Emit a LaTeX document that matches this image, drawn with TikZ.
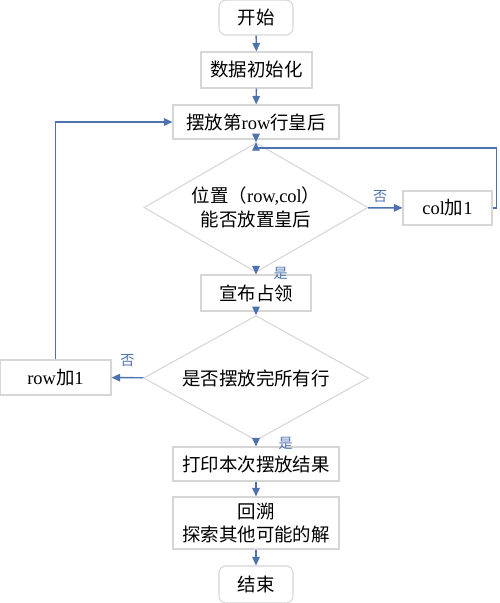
\documentclass[tikz,border=0pt]{standalone}
\usepackage{fontspec}
\setmainfont{Liberation Serif}
\newfontfamily\cjk{Noto Sans CJK SC}
\usepackage{tikz}
\usetikzlibrary{arrows.meta}
\usetikzlibrary{shapes.geometric}
\definecolor{flowblue}{HTML}{4E72B0}
\definecolor{boxgray}{HTML}{D6D6D6}

\begin{document}
\begin{tikzpicture}[
  procbox/.style={draw=boxgray, line width=0.6pt, inner sep=0pt, align=center,
    font=\fontsize{10.5}{13.5}\selectfont},
  termbox/.style={procbox, rounded corners=4pt},
  decision/.style={draw=boxgray, line width=0.6pt, diamond, inner sep=-0.2cm,
    align=center, font=\fontsize{10.5}{13.5}\selectfont},
  flow/.style={draw=flowblue, line width=0.8pt, -{Triangle[length=1.7mm,width=1.5mm]}},
  lbl/.style={text=flowblue, font=\cjk\fontsize{8}{9}\selectfont}
]
  \useasboundingbox (0,0) rectangle (10,-12.06);

  % Main column
  \node[termbox, minimum width=1.48cm, minimum height=0.70cm] (start) at (5.12,-0.35) {\cjk 开始};
  \node[procbox, minimum width=2.22cm, minimum height=0.72cm] (init) at (5.13,-1.40) {\cjk 数据初始化};
  \node[procbox, minimum width=3.32cm, minimum height=0.68cm] (place) at (5.12,-2.44) {{\cjk 摆放第}row{\cjk 行皇后}};
  \node[decision, minimum width=4.48cm, minimum height=2.02cm] (canput) at (5.12,-4.15)
    {{\cjk 位置（}row,col{\cjk ）}\\{\cjk 能否放置皇后}};
  \node[procbox, minimum width=1.78cm, minimum height=0.68cm] (colinc) at (8.95,-4.16) {col{\cjk 加}1};
  \node[procbox, minimum width=2.20cm, minimum height=0.72cm] (occupy) at (5.12,-5.86) {\cjk 宣布占领};
  \node[decision, minimum width=4.50cm, minimum height=2.00cm] (alldone) at (5.12,-7.56) {\cjk 是否摆放完所有行};
  \node[procbox, minimum width=2.22cm, minimum height=0.70cm] (rowinc) at (1.11,-7.55) {row{\cjk 加}1};
  \node[procbox, minimum width=3.32cm, minimum height=0.68cm] (print) at (5.12,-9.28) {\cjk 打印本次摆放结果};
  \node[procbox, minimum width=3.32cm, minimum height=1.04cm] (back) at (5.12,-10.46) {{\cjk 回溯}\\{\cjk 探索其他可能的解}};
  \node[termbox, minimum width=1.48cm, minimum height=0.74cm] (stop) at (5.12,-11.69) {\cjk 结束};

  % Connectors
  \draw[flow] (start) -- (init);
  \draw[flow] (init) -- (place);
  \draw[flow] (place) -- (canput);
  \draw[flow] (canput) -- node[lbl, right=0.22cm] {是} (occupy);
  \draw[flow] (canput) -- node[lbl, above=-0.02cm, pos=0.35] {否} (colinc);
  \coordinate (colturn) at (9.93,-2.96);
  \draw[flow] (colinc.east) -| (colturn) -- (colturn -| canput.north) -- (canput.north);
  \draw[flow] (occupy) -- (alldone);
  \draw[flow] (alldone) -- node[lbl, right=0.32cm] {是} (print);
  \draw[flow] (alldone) -- node[lbl, above=0.1cm] {否} (rowinc);
  \draw[flow] (rowinc.north) |- (place.west);
  \draw[flow] (print) -- (back);
  \draw[flow] (back) -- (stop);
\end{tikzpicture}
\end{document}
